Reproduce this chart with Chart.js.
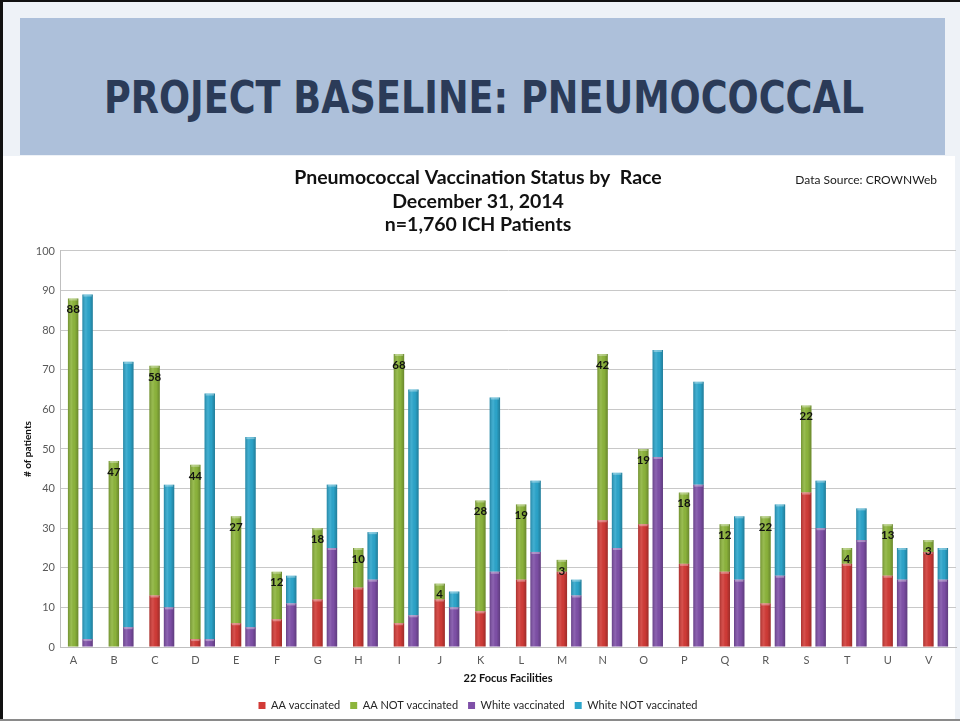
<!DOCTYPE html>
<html>
<head>
<meta charset="utf-8">
<script src="https://cdn.jsdelivr.net/npm/chart.js@4.4.1/dist/chart.umd.min.js"></script>
<style>
  html, body { margin: 0; padding: 0; }
  body { width: 960px; height: 721px; position: relative; overflow: hidden; background: #eef2f7; font-family: Lato, "Open Sans", sans-serif; }
  #banner { position: absolute; left: 20px; top: 18px; width: 925px; height: 137px; background: #adc0da; }
  #slideTitle { position: absolute; left: 20px; top: 73px; width: 925px; height: 50px; line-height: 50px; text-align: center;
    font-family: "DejaVu Sans Condensed", "Liberation Sans Narrow", sans-serif; font-weight: bold; font-size: 44px;
    letter-spacing: 0px; color: #2b3b58; white-space: nowrap; transform: scaleX(0.925); transform-origin: 483px 50%; }
  #panel { position: absolute; left: 3px; top: 156px; width: 952px; height: 563px; background: #ffffff; }
  #chartWrap { position: absolute; left: 0; top: 157px; width: 960px; height: 564px; }
  #src { position: absolute; right: 23px; top: 172px; font-size: 12px; color: #1a1a1a; font-family: Lato, "Open Sans", sans-serif; }
  #bLeft { position: absolute; left: 0; top: 0; width: 3px; height: 721px; background: #111; }
  #bTop { position: absolute; left: 0; top: 0; width: 960px; height: 2px; background: #111; }
  #bBottom { position: absolute; left: 0; top: 719px; width: 960px; height: 2px; background: #8a8a8a; }
</style>
</head>
<body>
<div id="banner"></div>
<div id="slideTitle">PROJECT BASELINE: PNEUMOCOCCAL</div>
<div id="panel"></div>
<div id="chartWrap"><canvas id="c" width="960" height="564"></canvas></div>
<div id="src">Data Source: CROWNWeb</div>
<div id="bLeft"></div>
<div id="bTop"></div>
<div id="bBottom"></div>
<script>
const categories = ['A','B','C','D','E','F','G','H','I','J','K','L','M','N','O','P','Q','R','S','T','U','V'];
const aaVaccinated       = [0, 0, 13, 2, 6, 7, 12, 15, 6, 12, 9, 17, 19, 32, 31, 21, 19, 11, 39, 21, 18, 24];
const aaNotVaccinated    = [88, 47, 58, 44, 27, 12, 18, 10, 68, 4, 28, 19, 3, 42, 19, 18, 12, 22, 22, 4, 13, 3];
const whiteVaccinated    = [2, 5, 10, 2, 5, 11, 25, 17, 8, 10, 19, 24, 13, 25, 48, 41, 17, 18, 30, 27, 17, 17];
const whiteNotVaccinated = [87, 67, 31, 62, 48, 7, 16, 12, 57, 4, 44, 18, 4, 19, 27, 26, 16, 18, 12, 8, 8, 8];
const yTicks = [0, 10, 20, 30, 40, 50, 60, 70, 80, 90, 100];
const titleLines = ['Pneumococcal Vaccination Status by  Race', 'December 31, 2014', 'n=1,760 ICH Patients'];

const FONT = 'Lato, "Open Sans", sans-serif';

const barDecor = {
  id: 'barDecor',
  afterDatasetsDraw(chart) {
    const ctx = chart.ctx;
    ctx.save();
    chart.data.datasets.forEach((ds, di) => {
      const meta = chart.getDatasetMeta(di);
      if (meta.hidden) return;
      meta.data.forEach((el) => {
        const p = el.getProps(['x', 'y', 'base', 'width'], true);
        const h = p.base - p.y;
        if (h <= 0.5) return;
        const l = p.x - p.width / 2;
        const g = ctx.createLinearGradient(l, 0, l + p.width, 0);
        g.addColorStop(0, 'rgba(0,0,0,0.20)');
        g.addColorStop(0.35, 'rgba(255,255,255,0.10)');
        g.addColorStop(0.65, 'rgba(0,0,0,0.02)');
        g.addColorStop(1, 'rgba(0,0,0,0.25)');
        ctx.fillStyle = g;
        ctx.fillRect(l, p.y, p.width, h);
        ctx.fillStyle = 'rgba(255,255,255,0.35)';
        ctx.fillRect(l + 1, p.y, p.width - 2, Math.min(2, h));
      });
    });
    // value labels on the AA NOT vaccinated segments
    const meta = chart.getDatasetMeta(1);
    const vals = chart.data.datasets[1].data;
    ctx.font = 'bold 11.5px ' + FONT;
    ctx.fillStyle = '#111';
    ctx.textAlign = 'center';
    ctx.textBaseline = 'middle';
    meta.data.forEach((el, i) => {
      const p = el.getProps(['x', 'y'], true);
      ctx.fillText(String(vals[i]), p.x, p.y + 11);
    });
    ctx.restore();
  }
};

new Chart(document.getElementById('c'), {
  type: 'bar',
  data: {
    labels: categories,
    datasets: [
      { label: 'AA vaccinated', data: aaVaccinated, stack: 'AA', backgroundColor: '#d23b37' },
      { label: 'AA NOT vaccinated', data: aaNotVaccinated, stack: 'AA', backgroundColor: '#8db53c' },
      { label: 'White vaccinated', data: whiteVaccinated, stack: 'White', backgroundColor: '#7f50a8' },
      { label: 'White NOT vaccinated', data: whiteNotVaccinated, stack: 'White', backgroundColor: '#2ca6cc' }
    ]
  },
  options: {
    responsive: false,
    animation: false,
    devicePixelRatio: 1,
    layout: { padding: { left: 0, right: 4, top: 0, bottom: 0 } },
    datasets: { bar: { categoryPercentage: 0.71, barPercentage: 0.72, borderWidth: 0 } },
    plugins: {
      title: {
        display: true,
        text: titleLines,
        color: '#111',
        font: { family: FONT, size: 19.5, weight: 'bold', lineHeight: 1.205 },
        padding: { top: 9, bottom: 14.5 }
      },
      legend: {
        position: 'bottom',
        labels: {
          boxWidth: 7, boxHeight: 7, padding: 10,
          color: '#262626',
          font: { family: FONT, size: 11 }
        }
      },
      tooltip: { enabled: false }
    },
    scales: {
      x: {
        stacked: true,
        grid: { display: false, drawTicks: false },
        border: { display: true, color: '#bfbfbf' },
        ticks: { color: '#595959', font: { family: FONT, size: 11 }, padding: 7, labelOffset: -7 },
        title: { display: true, text: '22 Focus Facilities', color: '#111', font: { family: FONT, size: 11, weight: 'bold' }, padding: { top: 4, bottom: 5.4 } },
        afterFit: (s) => { s.height = 43; }
      },
      y: {
        stacked: true,
        min: 0, max: 100,
        afterBuildTicks: (s) => { s.ticks = yTicks.map(v => ({ value: v })); },
        ticks: { color: '#595959', font: { family: FONT, size: 11 }, padding: 5 },
        grid: { color: '#c8c8c8', drawTicks: false },
        border: { display: true, color: '#bfbfbf' },
        title: { display: true, text: '# of patients', color: '#111', font: { family: FONT, size: 10, weight: 'bold' }, padding: { top: 22, bottom: 0 } },
        afterFit: (s) => { s.width = 60; }
      }
    }
  },
  plugins: [barDecor]
});
</script>
</body>
</html>
